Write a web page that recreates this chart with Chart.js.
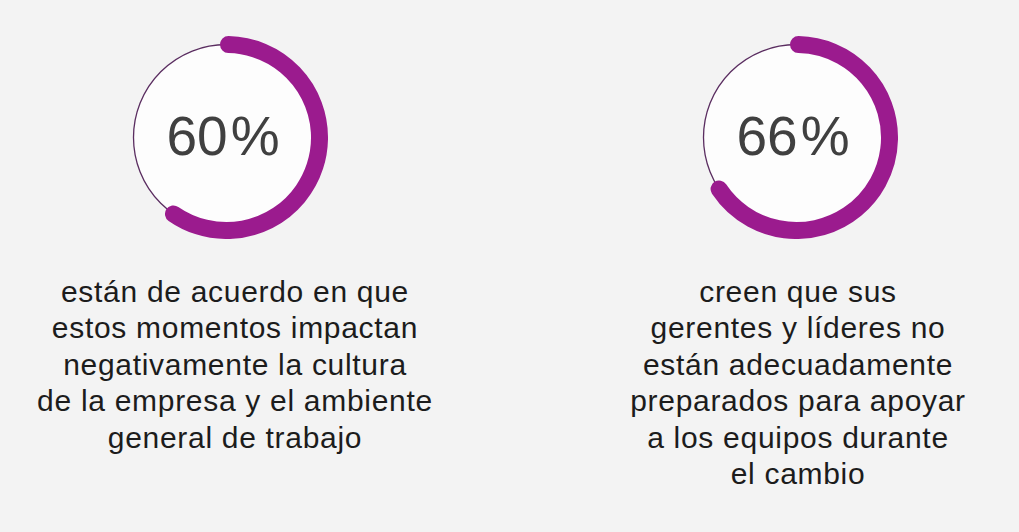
<!DOCTYPE html>
<html>
<head>
<meta charset="utf-8">
<script src="https://cdn.jsdelivr.net/npm/chart.js@4"></script>
<style>
  html, body { margin: 0; padding: 0; }
  body { width: 1019px; height: 532px; background: #f3f3f3; position: relative; overflow: hidden;
         font-family: "Liberation Sans", Arial, sans-serif; }
  .ring { position: absolute; top: 36px; width: 203px; height: 203px; }
  .pct { position: absolute; top: 106px; width: 200px; text-align: center; font-size: 55px; line-height: 60px; color: #404040; }
  .pct span { margin-left: 3px; }
  .cap { position: absolute; top: 273.5px; width: 440px; text-align: center; font-size: 30px; line-height: 36.6px;
         letter-spacing: 0.7px; color: #1c1c1c; }
</style>
</head>
<body>
<div class="ring" style="left:125px"><canvas id="ring0" width="203" height="203"></canvas></div>
<div class="ring" style="left:695px"><canvas id="ring1" width="203" height="203"></canvas></div>
<div class="pct" id="pct0" style="left:123px"></div>
<div class="pct" id="pct1" style="left:693px"></div>
<div class="cap" id="cap0" style="left:15px"></div>
<div class="cap" id="cap1" style="left:578px"></div>
<script>
// values
const shares = [60, 66];
const segmentLabels = ['sí', 'resto'];
const captions = [
  ['están de acuerdo en que', 'estos momentos impactan', 'negativamente la cultura', 'de la empresa y el ambiente', 'general de trabajo'],
  ['creen que sus', 'gerentes y líderes no', 'están adecuadamente', 'preparados para apoyar', 'a los equipos durante', 'el cambio']
];

const purple = '#9b1b8e';

// white disc with the thin track line under the thick arc
const trackPlugin = {
  id: 'track',
  beforeDatasetsDraw(chart) {
    const arc = chart.getDatasetMeta(0).data[0];
    if (!arc) return;
    const r = (arc.outerRadius + arc.innerRadius) / 2;
    const ctx = chart.ctx;
    ctx.save();
    ctx.beginPath();
    ctx.arc(arc.x, arc.y, r, 0, Math.PI * 2);
    ctx.fillStyle = '#fdfdfd';
    ctx.fill();
    ctx.lineWidth = 1.3;
    ctx.strokeStyle = '#5a2d60';
    ctx.stroke();
    ctx.restore();
  }
};

shares.forEach((v, i) => {
  const pct = document.getElementById('pct' + i);
  pct.textContent = v;
  const sign = document.createElement('span');
  sign.textContent = '%';
  pct.appendChild(sign);
  document.getElementById('cap' + i).innerHTML = captions[i].join('<br>');

  new Chart(document.getElementById('ring' + i), {
    type: 'doughnut',
    data: {
      labels: segmentLabels,
      datasets: [{
        data: [v, 100 - v],
        backgroundColor: [purple, 'rgba(0,0,0,0)'],
        borderColor: [purple, 'rgba(0,0,0,0)'],
        borderWidth: [13, 0],
        hoverBorderWidth: [13, 0],
        borderAlign: 'center',
        borderJoinStyle: 'round',
        borderRadius: 2
      }]
    },
    options: {
      responsive: false,
      animation: false,
      cutout: '95.8%',
      events: [],
      plugins: { legend: { display: false }, tooltip: { enabled: false } }
    },
    plugins: [trackPlugin]
  });
});
</script>
</body>
</html>
